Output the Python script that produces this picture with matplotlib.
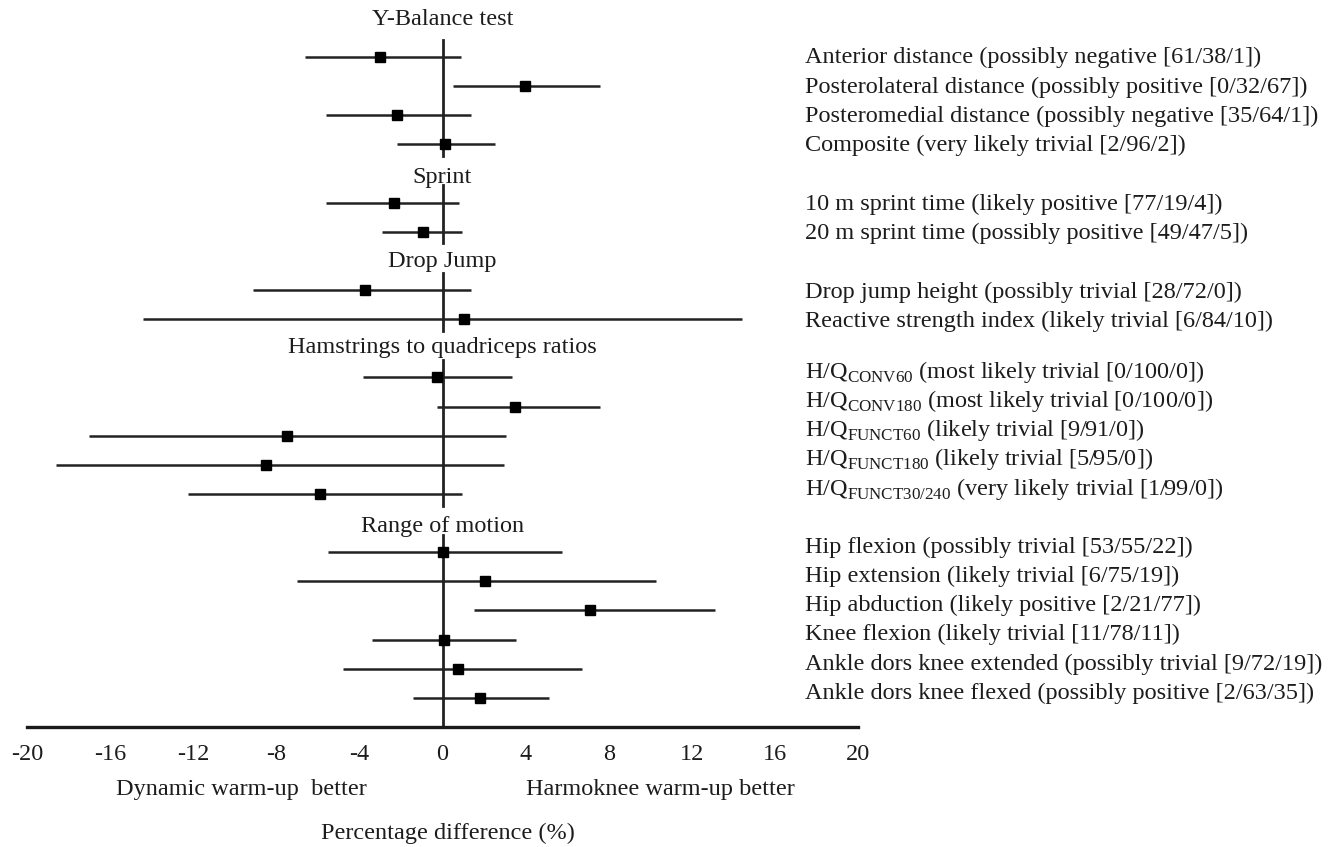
import matplotlib
matplotlib.use('Agg')
import matplotlib.pyplot as plt

plt.rcParams['font.family'] = ['Liberation Serif', 'DejaVu Serif']
plt.rcParams['mathtext.fontset'] = 'custom'
plt.rcParams['mathtext.rm'] = 'Liberation Serif'
plt.rcParams['axes.unicode_minus'] = False

# group titles
groups = ['Y-Balance test', 'Sprint', 'Drop Jump',
          'Hamstrings to quadriceps ratios', 'Range of motion']

# outcome labels per group
labels = [
    ['Anterior distance (possibly negative [61/38/1])',
     'Posterolateral distance (possibly positive [0/32/67])',
     'Posteromedial distance (possibly negative [35/64/1])',
     'Composite (very likely trivial [2/96/2])'],
    ['10 m sprint time (likely positive [77/19/4])',
     '20 m sprint time (possibly positive [49/47/5])'],
    ['Drop jump height (possibly trivial [28/72/0])',
     'Reactive strength index (likely trivial [6/84/10])'],
    [r'H/Q$_{\mathrm{CONV60}}$ (most likely trivial [0/100/0])',
     r'H/Q$_{\mathrm{CONV180}}$ (most likely trivial [0/100/0])',
     r'H/Q$_{\mathrm{FUNCT60}}$ (likely trivial [9/91/0])',
     r'H/Q$_{\mathrm{FUNCT180}}$ (likely trivial [5/95/0])',
     r'H/Q$_{\mathrm{FUNCT30/240}}$ (very likely trivial [1/99/0])'],
    ['Hip flexion (possibly trivial [53/55/22])',
     'Hip extension (likely trivial [6/75/19])',
     'Hip abduction (likely positive [2/21/77])',
     'Knee flexion (likely trivial [11/78/11])',
     'Ankle dors knee extended (possibly trivial [9/72/19])',
     'Ankle dors knee flexed (possibly positive [2/63/35])'],
]

# percentage difference and confidence limits
est = [[-3.0, 3.95, -2.2, 0.1],
       [-2.35, -0.95],
       [-3.75, 1.05],
       [-0.25, 3.5, -7.5, -8.5, -5.9],
       [0.0, 2.05, 7.1, 0.05, 0.75, 1.8]]
lo = [[-6.6, 0.5, -5.6, -2.2],
      [-5.6, -2.9],
      [-9.1, -14.4],
      [-3.85, -0.25, -17.0, -18.6, -12.25],
      [-5.5, -7.0, 1.5, -3.4, -4.8, -1.4]]
hi = [[0.9, 7.6, 1.35, 2.55],
      [0.8, 0.95],
      [1.35, 14.4],
      [3.35, 7.6, 3.05, 2.95, 0.95],
      [5.75, 10.3, 13.1, 3.55, 6.7, 5.15]]

xticks = [-20, -16, -12, -8, -4, 0, 4, 8, 12, 16, 20]

# small vertical nudges (in row units) of titles / labels, as in the scan
title_off = [-0.1, 0.33, 0.2, 0.17, 0.3]
label_off = [0.22, 0.26, 0.26, 0.02, 0.03]

W, H = 1333, 847
fig = plt.figure(figsize=(W / 100, H / 100), dpi=100)
ax = fig.add_axes([27 / W, 120 / H, 831 / W, 1 - 120 / H])
txt = '#1c1c1c'
fs = 17.5

slot = 0
nslots = sum(len(l) + 1 for l in labels)
for g, name in enumerate(groups):
    ax.text(0, slot + title_off[g], name, ha='center', va='baseline',
            fontsize=fs, color=txt)
    first = slot + 1
    for i in range(len(labels[g])):
        slot += 1
        ax.plot([lo[g][i], hi[g][i]], [slot, slot], color='#222222', lw=1.8,
                solid_capstyle='butt', zorder=2)
        ax.plot(est[g][i], slot, marker='s', color='black', markersize=7.5, zorder=3)
        ax.text(17.45, slot + label_off[g], labels[g][i], fontsize=fs, color=txt,
                ha='left', va='baseline', clip_on=False)
    end = nslots if g == len(groups) - 1 else slot + 0.4
    ax.plot([0, 0], [first - 0.6, end], color='#222222', lw=2.0, zorder=1)
    slot += 1

ax.set_xlim(-20, 20)
ax.set_ylim(nslots, -0.959)
for s in ['top', 'right', 'left']:
    ax.spines[s].set_visible(False)
ax.spines['bottom'].set_linewidth(2.4)
ax.spines['bottom'].set_color('#1a1a1a')
ax.set_yticks([])
ax.set_xticks(xticks)
ax.set_xticklabels([str(t) for t in xticks], fontsize=fs, color=txt)
ax.tick_params(axis='x', length=0, pad=12)

fig.text(241 / W, 1 - 795 / H, 'Dynamic warm-up  better', ha='center', va='baseline',
         fontsize=fs, color=txt)
fig.text(660 / W, 1 - 795 / H, 'Harmoknee warm-up better', ha='center', va='baseline',
         fontsize=fs, color=txt)
fig.text(448 / W, 1 - 839 / H, 'Percentage difference (%)', ha='center', va='baseline',
         fontsize=fs, color=txt)

fig.savefig('out.png', dpi=100, facecolor='white')
